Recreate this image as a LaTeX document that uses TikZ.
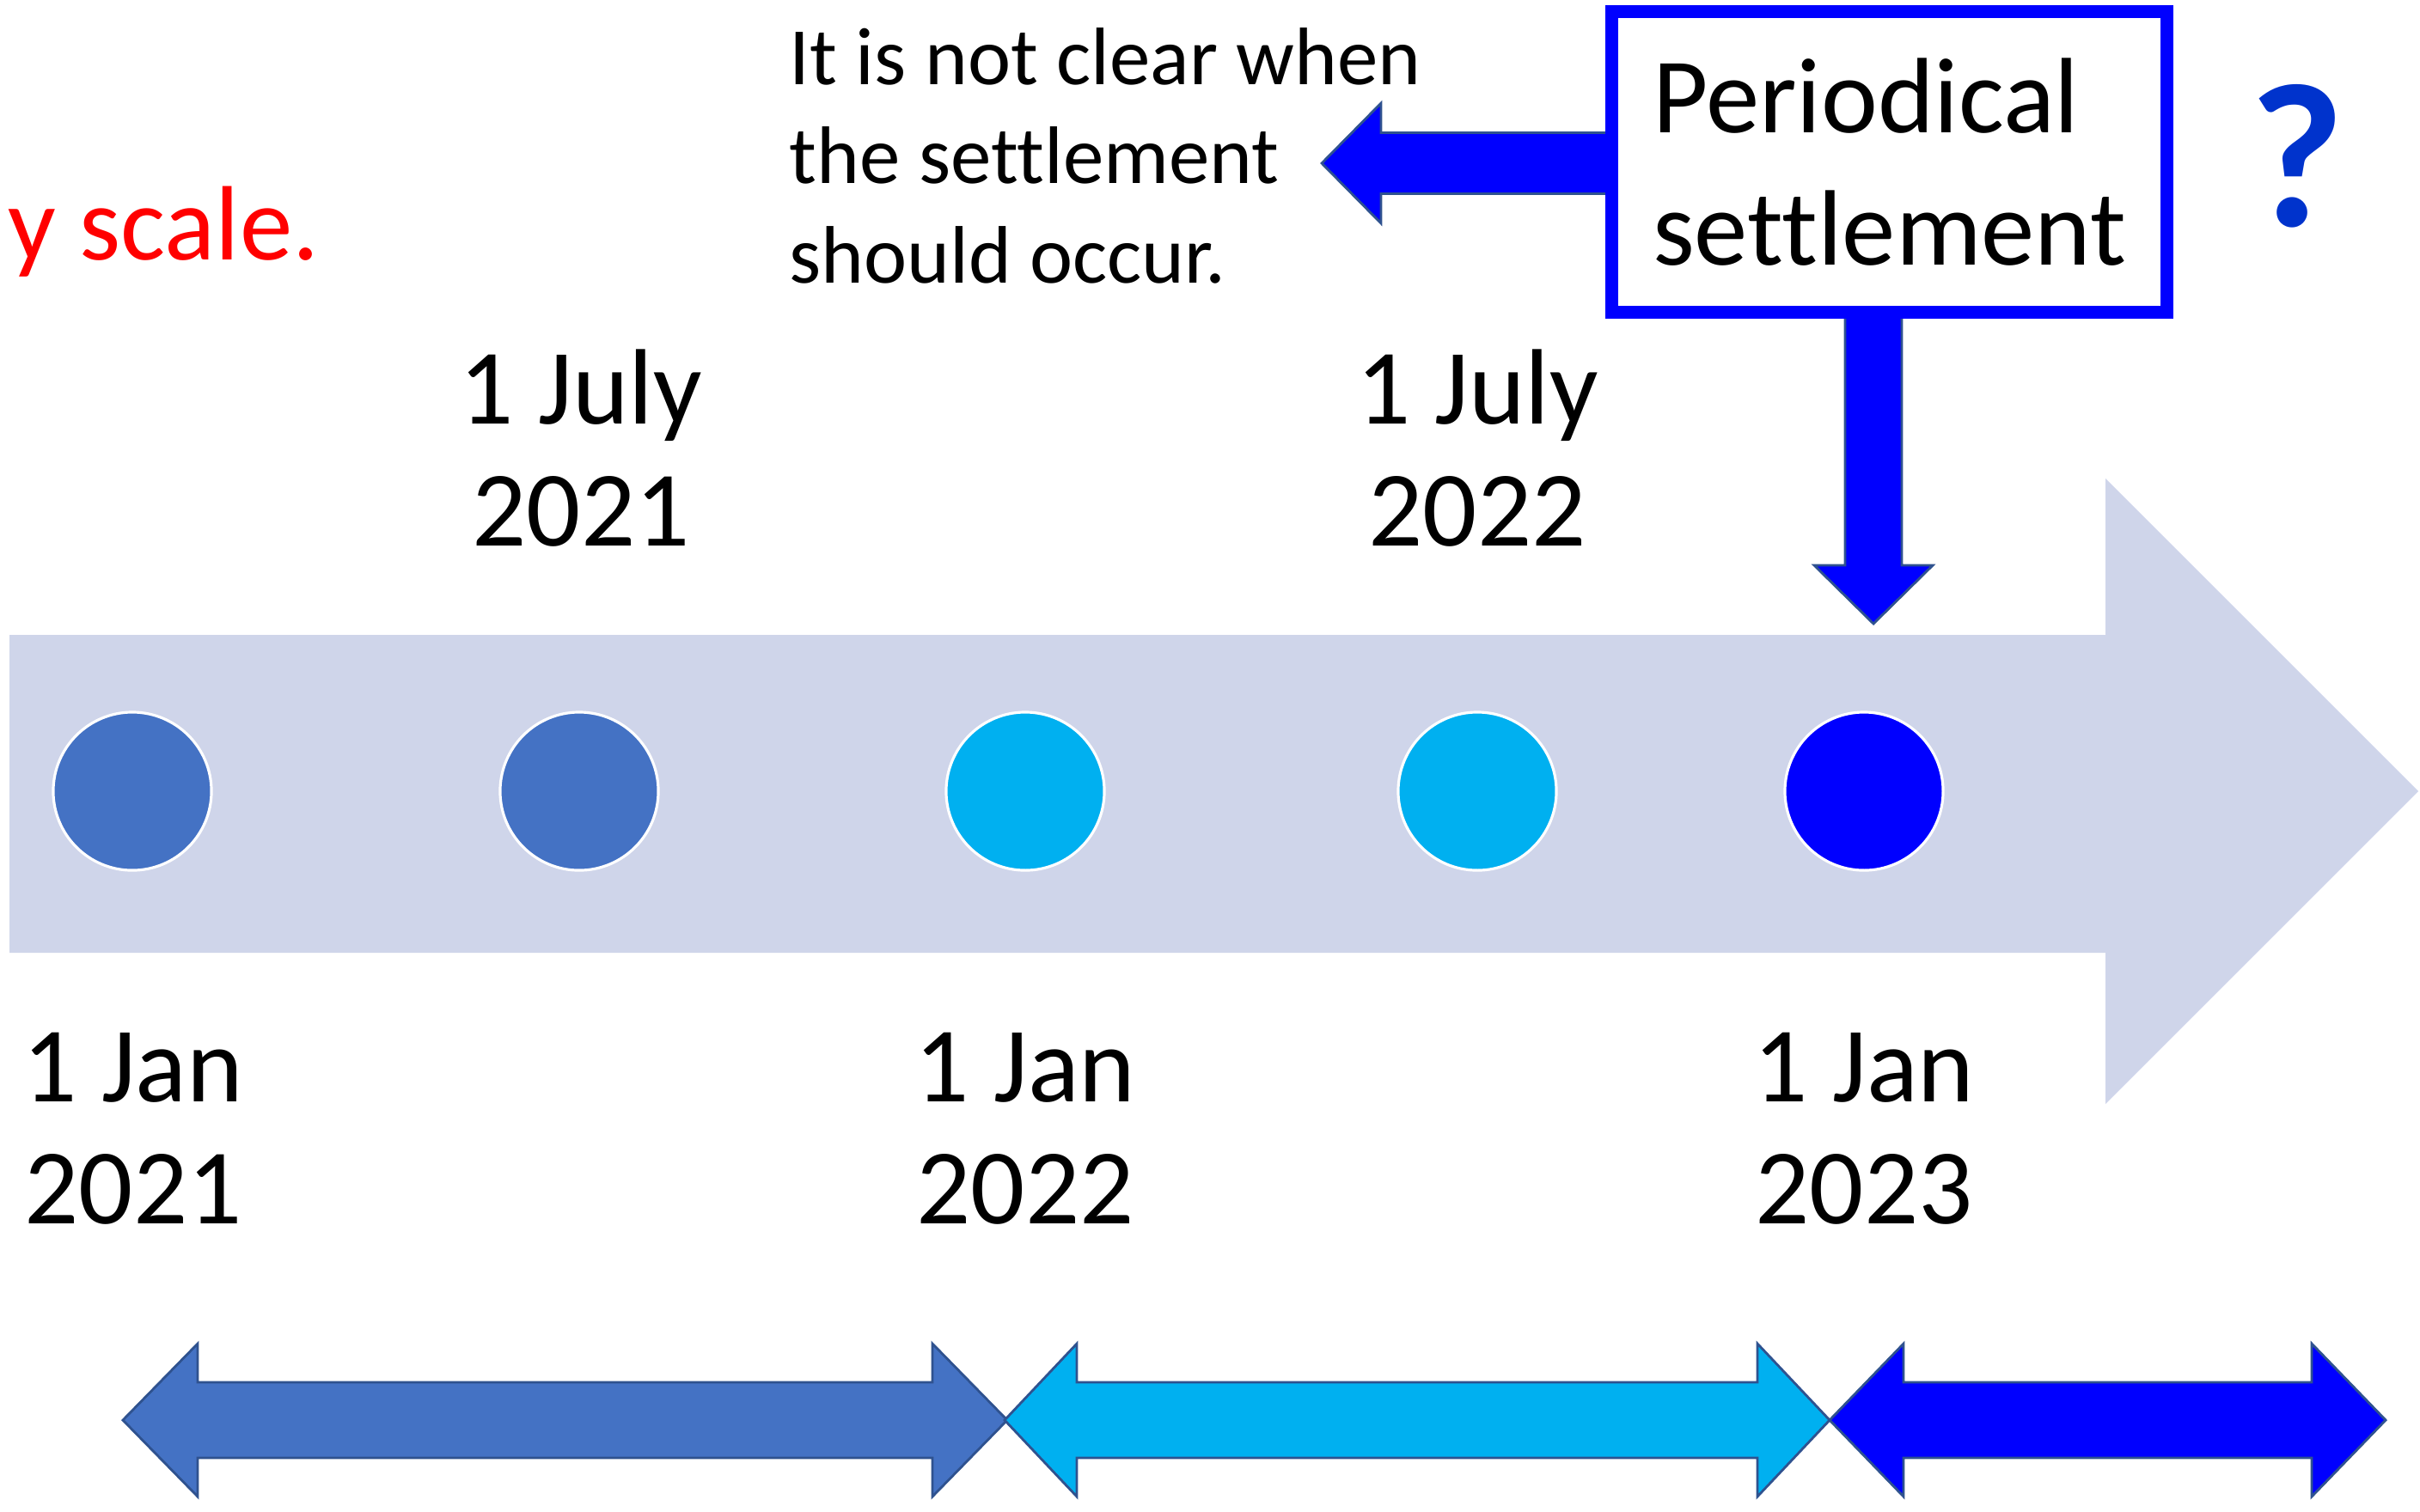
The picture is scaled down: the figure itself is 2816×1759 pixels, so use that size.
\documentclass[tikz,border=0pt]{standalone}
\usepackage{fontspec}
\setmainfont{Carlito}[Ligatures={NoCommon,NoRare,NoContextual}]
\usetikzlibrary{calc}
\definecolor{barc}{HTML}{CFD5EA}
\definecolor{cA}{HTML}{4472C4}
\definecolor{cB}{HTML}{00B0F0}
\definecolor{cC}{HTML}{0000FF}
\definecolor{edgec}{HTML}{2F528F}
\definecolor{qc}{HTML}{0033CC}
\definecolor{redc}{HTML}{FF0000}
\newcommand\dblarr[4]{%
  \filldraw[blockarrow, fill=#4] (#1,1653) -- (#1+#3,1564) -- (#1+#3,1609) -- (#2-#3,1609) -- (#2-#3,1564) -- (#2,1653) -- (#2-#3,1742) -- (#2-#3,1697) -- (#1+#3,1697) -- (#1+#3,1742) -- cycle;}
\begin{document}
\begin{tikzpicture}[x=0.01cm,y=-0.01cm,
  datelbl/.style={inner sep=0, anchor=base, font=\fontsize{35.5}{40.5}\selectfont},
  dot/.style={circle, minimum size=1.84cm, inner sep=0, draw=white, line width=0.9pt},
  blockarrow/.style={draw=edgec, line width=0.8pt, line join=miter}]
\useasboundingbox (0,0) rectangle (2816,1759);
% timeline bar
\fill[barc] (11,739) -- (2450,739) -- (2450,557) -- (2814,921) -- (2450,1285) -- (2450,1109) -- (11,1109) -- cycle;
% dots
\node[dot, fill=cA] (c1) at (154,921) {};
\node[dot, fill=cA] (c2) at (674,921) {};
\node[dot, fill=cB] (c3) at (1193,921) {};
\node[dot, fill=cB] (c4) at (1719,921) {};
\node[dot, fill=cC] (c5) at (2169,921) {};
% date labels
\node[datelbl] (j21) at (155,1282) {\begin{tabular}[t]{@{}c@{}}1 Jan\\2021\end{tabular}};
\node[datelbl] (jl21) at (676,493) {\begin{tabular}[t]{@{}c@{}}1 July\\2021\end{tabular}};
\node[datelbl] (j22) at (1193,1282) {\begin{tabular}[t]{@{}c@{}}1 Jan\\2022\end{tabular}};
\node[datelbl] (jl22) at (1719,493) {\begin{tabular}[t]{@{}c@{}}1 July\\2022\end{tabular}};
\node[datelbl] (j23) at (2169,1282) {\begin{tabular}[t]{@{}c@{}}1 Jan\\2023\end{tabular}};
% period arrows
\dblarr{143}{1172}{87}{cA}
\dblarr{1169}{2129}{84}{cB}
\dblarr{2129}{2776}{86}{cC}
% box and its arrows
\coordinate (ltip) at (1538,190);
\coordinate (dtip) at (2180,726);
\node[minimum width=6.45cm, minimum height=3.49cm, inner sep=0] (boxarea) at (2198.5,188.5) {};
\filldraw[blockarrow, fill=cC] (boxarea.west |- ltip) ++(0,-35.5) -- ($(ltip)+(69,-35.5)$) -- ($(ltip)+(69,-70)$) -- (ltip) -- ($(ltip)+(69,70)$) -- ($(ltip)+(69,35.5)$) -- ($(boxarea.west |- ltip)+(0,35.5)$) -- cycle;
\filldraw[blockarrow, fill=cC] ($(boxarea.south -| dtip)+(-33,0)$) -- ($(boxarea.south -| dtip)+(33,0)$) -- ($(dtip)+(33,-68)$) -- ($(dtip)+(69,-68)$) -- (dtip) -- ($(dtip)+(-69,-68)$) -- ($(dtip)+(-33,-68)$) -- cycle;
\node[draw=cC, fill=white, line width=4.27pt, minimum width=6.45cm, minimum height=3.49cm, inner sep=0, align=left, font=\fontsize{35.5}{43.8}\selectfont] (box) at (boxarea) {Periodical\\settlement};
% note
\node[inner sep=0, anchor=base west, font=\fontsize{27}{32.9}\selectfont] (note) at (918,98) {\begin{tabular}[t]{@{}l@{}}It is not clear when\\the settlement\\should occur.\end{tabular}};
% red text
\node[inner sep=0, anchor=base east, text=redc, font=\fontsize{35}{42}\selectfont] (scale) at (372,302) {y scale.};
% question mark
\node[inner sep=0, anchor=base, text=qc, font=\fontsize{68}{80}\selectfont\bfseries] (q) at (2673,263) {?};
\end{tikzpicture}
\end{document}
